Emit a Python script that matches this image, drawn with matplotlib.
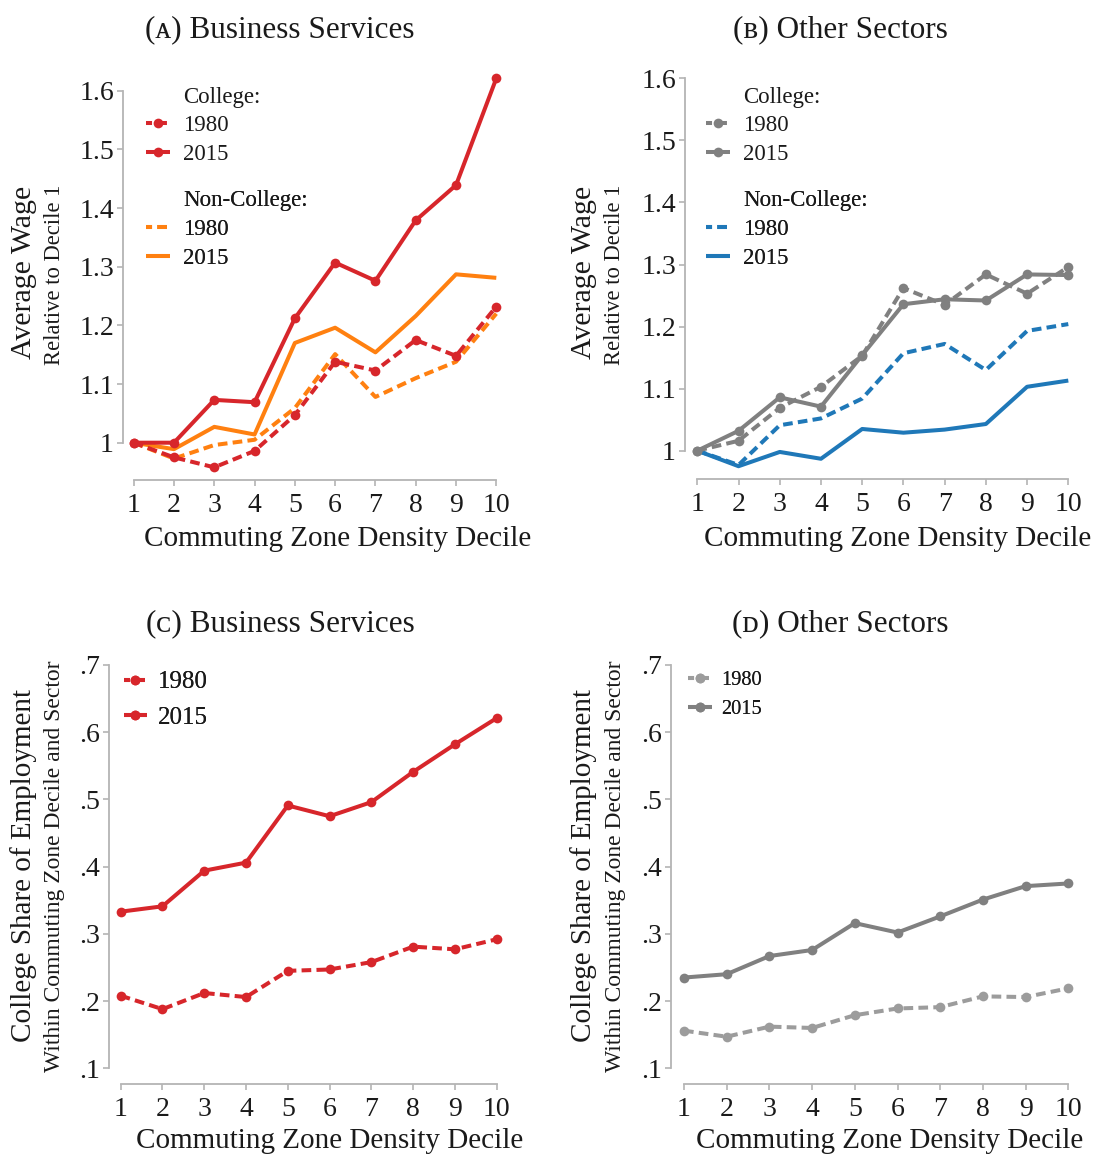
import matplotlib
matplotlib.use("Agg")
import matplotlib.pyplot as plt
from matplotlib.lines import Line2D

plt.rcParams['font.family'] = ['Liberation Serif', 'DejaVu Serif']

deciles = list(range(1, 11))

# Panel A: Business Services, wage relative to decile 1
a_col_1980 = [1.0, 0.975, 0.958, 0.986, 1.047, 1.138, 1.123, 1.175, 1.148, 1.232]
a_col_2015 = [1.0, 1.0, 1.073, 1.069, 1.212, 1.307, 1.276, 1.379, 1.439, 1.621]
a_nc_1980 = [1.0, 0.973, 0.996, 1.005, 1.059, 1.151, 1.078, 1.110, 1.138, 1.220]
a_nc_2015 = [1.0, 0.989, 1.027, 1.014, 1.170, 1.196, 1.154, 1.216, 1.287, 1.281]

# Panel B: Other Sectors
b_col_1980 = [1.0, 1.016, 1.069, 1.103, 1.153, 1.262, 1.235, 1.284, 1.253, 1.296]
b_col_2015 = [1.0, 1.032, 1.086, 1.071, 1.154, 1.236, 1.244, 1.242, 1.284, 1.283]
b_nc_1980 = [1.0, 0.977, 1.041, 1.052, 1.084, 1.157, 1.172, 1.130, 1.193, 1.204]
b_nc_2015 = [1.0, 0.975, 0.998, 0.987, 1.035, 1.029, 1.034, 1.043, 1.103, 1.113]

# Panel C/D: college share of employment
c_1980 = [0.208, 0.188, 0.212, 0.206, 0.245, 0.247, 0.258, 0.281, 0.277, 0.292]
c_2015 = [0.333, 0.341, 0.394, 0.406, 0.491, 0.475, 0.496, 0.541, 0.582, 0.621]
d_1980 = [0.156, 0.147, 0.162, 0.160, 0.179, 0.189, 0.191, 0.207, 0.206, 0.219]
d_2015 = [0.235, 0.240, 0.267, 0.276, 0.316, 0.302, 0.326, 0.351, 0.371, 0.375]

wage_ticks = [1.0, 1.1, 1.2, 1.3, 1.4, 1.5, 1.6]
wage_labels = ['1', '1.1', '1.2', '1.3', '1.4', '1.5', '1.6']
share_ticks = [0.1, 0.2, 0.3, 0.4, 0.5, 0.6, 0.7]
share_labels = ['.1', '.2', '.3', '.4', '.5', '.6', '.7']

RED = '#d7262b'
ORANGE = '#ff8010'
GRAY = '#808080'
LGRAY = '#9c9c9c'
BLUE = '#1f78b8'
SPINE = '#b4b4b4'
TXT = '#1a1a1a'

W, H = 1107, 1154
fig = plt.figure(figsize=(W / 100, H / 100), dpi=100)

PX2PT = 72 / 100.0


def make_axes(x1, x10, ytop, ybot, spine_x, xaxis_y, ylo, yhi, yticks, ylabels):
    ax = fig.add_axes([x1 / W, 1 - ybot / H, (x10 - x1) / W, (ybot - ytop) / H])
    ax.set_xlim(1, 10)
    ax.set_ylim(ylo, yhi)
    ax.patch.set_visible(False)
    for s in ['top', 'right']:
        ax.spines[s].set_visible(False)
    ax.spines['left'].set_position(('outward', (x1 - spine_x) * PX2PT))
    ax.spines['bottom'].set_position(('outward', (xaxis_y - ybot) * PX2PT))
    ax.spines['left'].set_bounds(ylo, yhi)
    ax.spines['bottom'].set_bounds(1, 10)
    for s in ['left', 'bottom']:
        ax.spines[s].set_color(SPINE)
        ax.spines[s].set_linewidth(1.3)
    ax.set_xticks(deciles)
    ax.set_xticklabels([str(d) for d in deciles])
    ax.set_yticks(yticks)
    ax.set_yticklabels(ylabels)
    ax.tick_params(axis='both', colors=SPINE, length=4.5, width=1.2, labelsize=20,
                   labelcolor=TXT)
    ax.tick_params(axis='x', pad=5)
    ax.tick_params(axis='y', pad=2)
    return ax


LW = 2.9
MS = 7.0
DASH = (2.4, 1.3)


def line(ax, y, color, dashed, marker):
    kw = dict(color=color, lw=LW, clip_on=False, solid_capstyle='butt', dash_capstyle='butt')
    if marker:
        kw.update(marker='o', ms=MS, markeredgewidth=0)
    l, = ax.plot(deciles, y, **kw)
    if dashed:
        l.set_dashes(DASH)
    return l


def handle(color, dashed, marker):
    kw = dict(color=color, lw=LW, solid_capstyle='butt', dash_capstyle='butt')
    if marker:
        kw.update(marker='o', ms=MS, markeredgewidth=0)
    if dashed:
        kw.update(linestyle=(0.9, DASH))
    return Line2D([], [], **kw)


def legend(ax, handles, labels, x_px, y_px, fs, hl, pad, spacing):
    lg = ax.legend(handles, labels, loc='upper left',
                   bbox_to_anchor=(x_px / W, 1 - y_px / H), bbox_transform=fig.transFigure,
                   frameon=False, fontsize=fs, handlelength=hl, handletextpad=pad,
                   borderpad=0, borderaxespad=0, labelspacing=spacing, numpoints=1)
    for t in lg.get_texts():
        t.set_color(TXT)
    ax.add_artist(lg)
    return lg


blank = Line2D([], [], color='none')

# ---- Panel A
axA = make_axes(133.7, 496.3, 90.7, 442.7, 123, 480, 1.0, 1.6, wage_ticks, wage_labels)
line(axA, a_nc_1980, ORANGE, True, False)
line(axA, a_nc_2015, ORANGE, False, False)
line(axA, a_col_1980, RED, True, True)
line(axA, a_col_2015, RED, False, True)
legend(axA, [blank, handle(RED, True, True), handle(RED, False, True)],
       ['College:', '1980', '2015'], 146, 86.5, 16.5, 1.05, 0.57, 0.34)
legend(axA, [blank, handle(ORANGE, True, False), handle(ORANGE, False, False)],
       ['Non-College:', '1980', '2015'], 146, 190, 16.5, 1.05, 0.57, 0.34)

# ---- Panel B
axB = make_axes(697.3, 1068.3, 78.3, 450.7, 685, 479.3, 1.0, 1.6, wage_ticks, wage_labels)
line(axB, b_nc_1980, BLUE, True, False)
line(axB, b_nc_2015, BLUE, False, False)
line(axB, b_col_1980, GRAY, True, True)
line(axB, b_col_2015, GRAY, False, True)
legend(axB, [blank, handle(GRAY, True, True), handle(GRAY, False, True)],
       ['College:', '1980', '2015'], 706, 86.5, 16.5, 1.05, 0.57, 0.34)
legend(axB, [blank, handle(BLUE, True, False), handle(BLUE, False, False)],
       ['Non-College:', '1980', '2015'], 706, 190, 16.5, 1.05, 0.57, 0.34)

# ---- Panel C
axC = make_axes(120.7, 496.7, 665, 1068.3, 109, 1084, 0.1, 0.7, share_ticks, share_labels)
line(axC, c_1980, RED, True, True)
line(axC, c_2015, RED, False, True)
legend(axC, [handle(RED, True, True), handle(RED, False, True)],
       ['1980', '2015'], 124, 671, 18, 0.9, 0.44, 0.5)

# ---- Panel D
axD = make_axes(684, 1068.3, 665, 1068.3, 671, 1084, 0.1, 0.7, share_ticks, share_labels)
line(axD, d_1980, LGRAY, True, True)
line(axD, d_2015, GRAY, False, True)
legend(axD, [handle(LGRAY, True, True), handle(GRAY, False, True)],
       ['1980', '2015'], 688, 671, 14.7, 1.18, 0.44, 0.45)

# ---- Titles and axis labels
TFS = 22.5
for x, y, t in [(280, 30, '(ᴀ) Business Services'), (840, 30, '(ʙ) Other Sectors'),
                (280, 624, '(ᴄ) Business Services'), (840, 624, '(ᴅ) Other Sectors')]:
    fig.text(x / W, 1 - y / H, t, ha='center', va='center', fontsize=TFS, color=TXT)

for x, y in [(338, 539), (898, 539), (330, 1141), (890, 1141)]:
    fig.text(x / W, 1 - y / H, 'Commuting Zone Density Decile', ha='center', va='center',
             fontsize=21, color=TXT)

for x in [24, 584]:
    fig.text(x / W, 1 - 272 / H, 'Average Wage', rotation=90, ha='center', va='center',
             fontsize=21.5, color=TXT)
    fig.text((x + 31) / W, 1 - 275 / H, 'Relative to Decile 1', rotation=90, ha='center',
             va='center', fontsize=16.3, color=TXT)
    fig.text(x / W, 1 - 866 / H, 'College Share of Employment', rotation=90, ha='center',
             va='center', fontsize=21, color=TXT)
    fig.text((x + 31) / W, 1 - 866 / H, 'Within Commuting Zone Decile and Sector', rotation=90,
             ha='center', va='center', fontsize=17, color=TXT)

fig.savefig('out.png', dpi=100)
